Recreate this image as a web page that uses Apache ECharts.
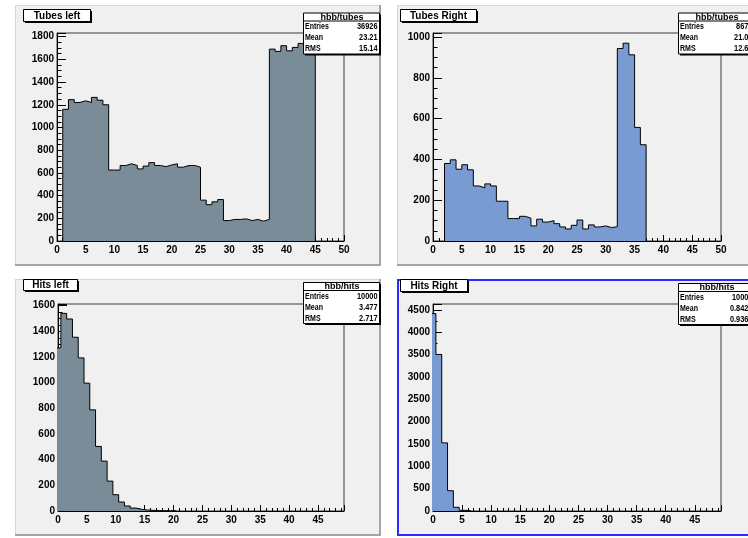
<!DOCTYPE html>
<html><head><meta charset="utf-8">
<script src="https://cdn.jsdelivr.net/npm/echarts@6/dist/echarts.min.js"></script>
<style>html,body{margin:0;padding:0;background:#fff}#c{width:748px;height:538px}</style>
</head><body><div id="c"></div>
<script>
// ---- data ----
const statLabels = ['Entries', 'Mean', 'RMS'];

const tubesLeftFirstEdge = 1;
const tubesLeft = [1160,1245,1220,1235,1220,1265,1240,1200,
  625,625,665,680,665,635,660,690,665,655,670,680,650,665,665,650,
  360,320,345,365,
  180,190,190,195,180,190,175,190,
  1690,1670,1720,1675,1705,1740,1745,1700];
const tubesLeftStats = ['36926', '23.21', '15.14'];

const tubesRightFirstEdge = 2;
const tubesRight = [380,398,352,374,349,270,261,280,270,195,195,110,110,121,112,
  74,107,93,100,85,69,59,77,103,59,79,69,74,66,70,944,970,913,557,472];
const tubesRightStats = ['8673', '21.01', '12.67'];

const hitsLeftFirstEdge = -0.5;
const hitsLeft = [1271,1540,1496,1354,1193,996,788,503,389,233,127,70,39,23,13,8,5,3,2,2,1];
const hitsLeftStats = ['10000', '3.477', '2.717'];

const hitsRightFirstEdge = -0.5;
const hitsRight = [4420,3504,1525,454,82,15,7];
const hitsRightStats = ['10000', '0.8423', '0.9363'];

const xTicksMajor = 5, xTicksMinor = 1;

// ---- layout / style ----
const FONT = 'Liberation Sans';
const SLATE = '#7a8c98', BLUE = '#7a9bd2';
const pads = [
  {pad:[15,5,366,261], grid:{left:57,top:33,width:287,height:208}, xMax:50, yMax:1832, yMajor:200, yMinor:50,
   values:tubesLeft, first:tubesLeftFirstEdge, fill:SLATE, title:'Tubes left', titleBox:[23,9,67,12],
   statName:'hbb/tubes', stats:tubesLeftStats, statsBox:[303,12.5,76,41]},
  {pad:[397,5,366,261], grid:{left:433,top:33,width:288,height:208}, xMax:50, yMax:1020, yMajor:200, yMinor:50,
   values:tubesRight, first:tubesRightFirstEdge, fill:BLUE, title:'Tubes Right', titleBox:[400,9,76,12],
   statName:'hbb/tubes', stats:tubesRightStats, statsBox:[678,12.5,76,41]},
  {pad:[15,279,366,257], grid:{left:58,top:304,width:286,height:207}, xMax:49.5, yMax:1613, yMajor:200, yMinor:50,
   values:hitsLeft, first:hitsLeftFirstEdge, fill:SLATE, title:'Hits left', titleBox:[23,279,54,11],
   statName:'hbb/hits', stats:hitsLeftStats, statsBox:[303,282,76,41]},
  {pad:[397,279,366,257], grid:{left:433,top:304,width:288,height:207}, xMax:49.5, yMax:4634, yMajor:500, yMinor:250,
   values:hitsRight, first:hitsRightFirstEdge, fill:BLUE, title:'Hits Right', titleBox:[400,279,67,12],
   statName:'hbb/hits', stats:hitsRightStats, statsBox:[678,283,76,41], selected:true}
];

function histPoints(first, vals) {
  const pts = [[first, 0]];
  vals.forEach((v, i) => pts.push([first + i, v]));
  pts.push([first + vals.length, vals[vals.length - 1]]);
  pts.push([first + vals.length, 0]);
  return pts;
}

const grids = [], xAxes = [], yAxes = [], series = [], graphic = [];
const lbl = {color:'#000', fontFamily:FONT, fontWeight:'bold', fontSize:10};
const STAT_FONT = 'bold 9px ' + FONT;

pads.forEach((p, i) => {
  grids.push(Object.assign({show:true, borderColor:'#3a3a3a', borderWidth:1, backgroundColor:'transparent'}, p.grid));
  grids.push(Object.assign({show:false}, p.grid));
  const gi = i * 2;
  xAxes.push({gridIndex:gi, type:'value', min:0, max:p.xMax, interval:xTicksMajor,
    axisLine:{show:true, onZero:false, lineStyle:{color:'#000', width:1}},
    axisTick:{show:true, inside:true, length:6, lineStyle:{color:'#000'}},
    axisLabel:Object.assign({margin:4, showMaxLabel:true,
      formatter:v => (Math.abs(v % xTicksMajor) < 1e-9 ? String(v) : '')}, lbl),
    splitLine:{show:false}});
  xAxes.push({gridIndex:gi + 1, type:'value', min:0, max:p.xMax, interval:xTicksMinor,
    axisLine:{show:false}, axisTick:{show:true, inside:true, length:3, lineStyle:{color:'#000'}},
    axisLabel:{show:false}, splitLine:{show:false}});
  yAxes.push({gridIndex:gi, type:'value', min:0, max:p.yMax, interval:p.yMajor,
    axisLine:{show:true, onZero:false, lineStyle:{color:'#000', width:1}},
    axisTick:{show:true, inside:true, length:9, lineStyle:{color:'#000'}},
    axisLabel:Object.assign({margin:3,
      formatter:v => (v % p.yMajor === 0 ? String(v) : '')}, lbl),
    splitLine:{show:false}});
  yAxes.push({gridIndex:gi + 1, type:'value', min:0, max:p.yMax, interval:p.yMinor,
    axisLine:{show:false}, axisTick:{show:true, inside:true, length:4.5, lineStyle:{color:'#000'}},
    axisLabel:{show:false}, splitLine:{show:false}});
  series.push({type:'line', xAxisIndex:gi, yAxisIndex:gi, step:'end', symbol:'none', silent:true,
    clip:true, data:histPoints(p.first, p.values), z:2,
    lineStyle:{color:'#000', width:1}, areaStyle:{color:p.fill, opacity:1}});

  const [px, py, pw, ph] = p.pad;
  graphic.push({type:'rect', z:-5, shape:{x:px, y:py, width:pw, height:ph}, style:{fill:'#f0f0f0'}});
  if (p.selected) {
    graphic.push({type:'rect', z:50, shape:{x:px + 1, y:py + 1, width:pw - 2, height:ph - 2},
      style:{fill:'none', stroke:'#2b2bff', lineWidth:2}});
  } else {
    graphic.push({type:'rect', z:-4, shape:{x:px, y:py, width:pw, height:1}, style:{fill:'#d6d6d6'}});
    graphic.push({type:'rect', z:-4, shape:{x:px, y:py, width:1, height:ph}, style:{fill:'#d6d6d6'}});
    graphic.push({type:'rect', z:-4, shape:{x:px + pw - 2, y:py, width:2, height:ph}, style:{fill:'#a4a4a4'}});
    graphic.push({type:'rect', z:-4, shape:{x:px, y:py + ph - 2, width:pw, height:2}, style:{fill:'#a4a4a4'}});
  }
  const [tx, ty, tw, th] = p.titleBox;
  graphic.push({type:'rect', z:60, shape:{x:tx + 2, y:ty + 2, width:tw, height:th}, style:{fill:'#000'}});
  graphic.push({type:'rect', z:61, shape:{x:tx + 0.5, y:ty + 0.5, width:tw, height:th}, style:{fill:'#fff', stroke:'#000', lineWidth:1}});
  graphic.push({type:'text', z:62, x:tx + tw / 2 + 0.5, y:ty + th / 2 + 1,
    style:{text:p.title, font:'bold 10px ' + FONT, fill:'#000', textAlign:'center', textVerticalAlign:'middle', align:'center', verticalAlign:'middle'}});
  const [sx, sy, sw, sh] = p.statsBox;
  graphic.push({type:'rect', z:60, shape:{x:sx + 2, y:sy + 2, width:sw, height:sh}, style:{fill:'#000'}});
  graphic.push({type:'rect', z:61, shape:{x:sx + 0.5, y:sy + 0.5, width:sw, height:sh}, style:{fill:'#fff', stroke:'#000', lineWidth:1}});
  graphic.push({type:'line', z:62, shape:{x1:sx, y1:sy + 8.5, x2:sx + sw, y2:sy + 8.5}, style:{stroke:'#000', lineWidth:1}});
  graphic.push({type:'text', z:62, x:sx + sw / 2 + 1, y:sy + 4.8,
    style:{text:p.statName, font:STAT_FONT, fill:'#000', textAlign:'center', textVerticalAlign:'middle', align:'center', verticalAlign:'middle'}});
  statLabels.forEach((name, k) => {
    const yy = sy + 14.5 + k * 11;
    graphic.push({type:'text', z:62, x:sx + 2, y:yy, scaleX:0.78,
      style:{text:name, font:STAT_FONT, fill:'#000', textAlign:'left', textVerticalAlign:'middle', align:'left', verticalAlign:'middle'}});
    graphic.push({type:'text', z:62, x:sx + sw - 1.5, y:yy, scaleX:0.82,
      style:{text:p.stats[k], font:STAT_FONT, fill:'#000', textAlign:'right', textVerticalAlign:'middle', align:'right', verticalAlign:'middle'}});
  });
});

const chart = echarts.init(document.getElementById('c'), null, {renderer:'canvas', width:748, height:538});
chart.setOption({
  animation:false,
  backgroundColor:'#ffffff',
  grid:grids, xAxis:xAxes, yAxis:yAxes, series:series,
  graphic:{elements:graphic}
});
</script>
</body></html>
